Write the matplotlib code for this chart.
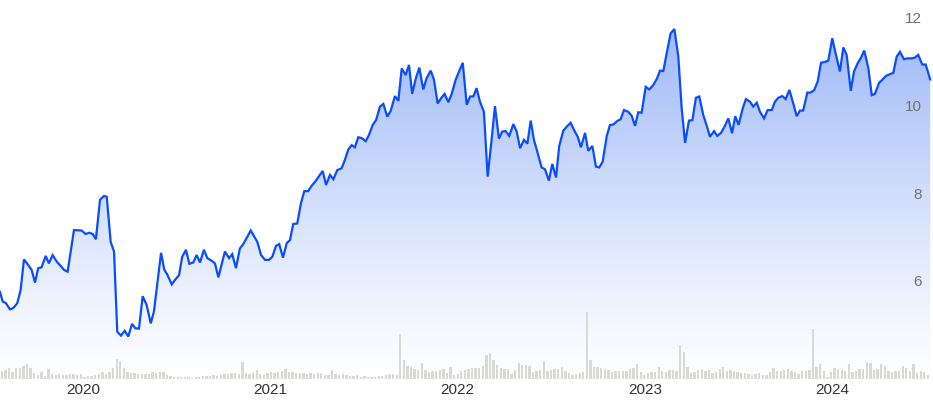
import numpy as np
import matplotlib
matplotlib.use("Agg")
import matplotlib.pyplot as plt
from matplotlib.patches import Polygon

# weekly close, x in decimal years
years = [2019.557, 2019.571, 2019.589, 2019.610, 2019.628, 2019.649, 2019.667, 2019.685, 2019.703, 2019.726,
         2019.744, 2019.761, 2019.779, 2019.801, 2019.818, 2019.838, 2019.860, 2019.881, 2019.899, 2019.918,
         2019.952, 2019.993, 2020.014, 2020.034, 2020.052, 2020.069, 2020.091, 2020.112, 2020.127, 2020.148,
         2020.166, 2020.183, 2020.203, 2020.223, 2020.242, 2020.262, 2020.279, 2020.299, 2020.319, 2020.340,
         2020.362, 2020.379, 2020.417, 2020.434, 2020.452, 2020.474, 2020.491, 2020.513, 2020.530, 2020.550,
         2020.568, 2020.589, 2020.607, 2020.625, 2020.646, 2020.664, 2020.687, 2020.705, 2020.723, 2020.758,
         2020.780, 2020.797, 2020.817, 2020.838, 2020.856, 2020.896, 2020.931, 2020.951, 2020.972, 2020.993,
         2021.011, 2021.031, 2021.048, 2021.068, 2021.088, 2021.105, 2021.123, 2021.144, 2021.164, 2021.182,
         2021.203, 2021.221, 2021.239, 2021.280, 2021.298, 2021.319, 2021.337, 2021.358, 2021.381, 2021.395,
         2021.417, 2021.435, 2021.452, 2021.470, 2021.488, 2021.510, 2021.527, 2021.547, 2021.565, 2021.586,
         2021.604, 2021.625, 2021.643, 2021.666, 2021.684, 2021.702, 2021.723, 2021.741, 2021.758, 2021.778,
         2021.796, 2021.817, 2021.835, 2021.857, 2021.874, 2021.894, 2021.912, 2021.931, 2021.951, 2021.969,
         2021.990, 2022.008, 2022.028, 2022.049, 2022.067, 2022.084, 2022.102, 2022.120, 2022.141, 2022.161,
         2022.182, 2022.200, 2022.221, 2022.239, 2022.257, 2022.276, 2022.298, 2022.316, 2022.334, 2022.355,
         2022.373, 2022.391, 2022.408, 2022.426, 2022.449, 2022.467, 2022.488, 2022.506, 2022.526, 2022.543,
         2022.565, 2022.583, 2022.604, 2022.624, 2022.642, 2022.659, 2022.681, 2022.698, 2022.720, 2022.739,
         2022.757, 2022.775, 2022.797, 2022.814, 2022.832, 2022.853, 2022.871, 2022.889, 2022.912, 2022.930,
         2022.948, 2022.965, 2022.983, 2023.005, 2023.024, 2023.045, 2023.064, 2023.081, 2023.099, 2023.117,
         2023.138, 2023.158, 2023.179, 2023.197, 2023.215, 2023.236, 2023.254, 2023.273, 2023.291, 2023.312,
         2023.331, 2023.348, 2023.370, 2023.387, 2023.407, 2023.428, 2023.446, 2023.466, 2023.483, 2023.501,
         2023.523, 2023.540, 2023.562, 2023.579, 2023.598, 2023.615, 2023.637, 2023.656, 2023.678, 2023.695,
         2023.713, 2023.734, 2023.752, 2023.772, 2023.793, 2023.811, 2023.829, 2023.846, 2023.868, 2023.886,
         2023.905, 2023.923, 2023.941, 2023.962, 2023.980, 2024.001, 2024.021, 2024.042, 2024.060, 2024.078,
         2024.100, 2024.117, 2024.137, 2024.155, 2024.172, 2024.194, 2024.212, 2024.229, 2024.251, 2024.268,
         2024.288, 2024.309, 2024.327, 2024.345, 2024.363, 2024.384, 2024.402, 2024.425, 2024.443, 2024.460,
         2024.482, 2024.500, 2024.524]
price = [5.78, 5.56, 5.52, 5.38, 5.41, 5.52, 5.82, 6.52, 6.42, 6.28,
         5.99, 6.32, 6.34, 6.60, 6.43, 6.62, 6.47, 6.37, 6.28, 6.24,
         7.19, 7.18, 7.10, 7.13, 7.10, 6.98, 7.88, 7.97, 7.95, 6.92,
         6.70, 4.87, 4.78, 4.89, 4.76, 5.05, 4.95, 4.94, 5.68, 5.48,
         5.06, 5.33, 6.67, 6.29, 6.16, 5.95, 6.05, 6.16, 6.58, 6.74,
         6.42, 6.45, 6.62, 6.45, 6.74, 6.55, 6.49, 6.43, 6.11, 6.70,
         6.55, 6.64, 6.32, 6.77, 6.87, 7.18, 6.92, 6.62, 6.51, 6.51,
         6.58, 6.83, 6.87, 6.56, 6.89, 6.96, 7.33, 7.34, 7.80, 8.08,
         8.08, 8.20, 8.29, 8.54, 8.22, 8.45, 8.35, 8.56, 8.60, 8.75,
         9.03, 9.13, 9.08, 9.31, 9.29, 9.22, 9.36, 9.59, 9.70, 10.01,
         10.07, 9.78, 9.91, 10.25, 10.14, 10.88, 10.73, 10.96, 10.30, 10.66,
         10.90, 10.40, 10.66, 10.83, 10.63, 10.08, 10.20, 10.30, 10.11, 10.30,
         10.62, 10.81, 11.01, 10.05, 10.24, 10.24, 10.43, 10.12, 9.89, 8.41,
         9.25, 10.02, 9.28, 9.44, 9.45, 9.34, 9.61, 9.44, 9.06, 9.25,
         9.16, 9.69, 9.25, 8.98, 8.62, 8.58, 8.32, 8.70, 8.39, 9.11,
         9.46, 9.55, 9.64, 9.46, 9.32, 9.08, 9.41, 9.00, 9.11, 8.64,
         8.62, 8.75, 9.34, 9.59, 9.60, 9.68, 9.72, 9.93, 9.89, 9.80,
         9.57, 9.88, 9.87, 10.46, 10.40, 10.50, 10.64, 10.83, 10.82, 11.23,
         11.68, 11.78, 11.15, 9.97, 9.18, 9.69, 9.70, 10.21, 10.24, 9.82,
         9.57, 9.32, 9.45, 9.34, 9.41, 9.57, 9.74, 9.40, 9.79, 9.59,
         9.97, 10.18, 10.12, 10.01, 10.10, 9.89, 9.74, 9.93, 9.93, 10.12,
         10.21, 10.25, 10.18, 10.39, 10.08, 9.79, 9.92, 9.92, 10.33, 10.33,
         10.39, 10.58, 11.01, 11.03, 11.06, 11.57, 11.19, 10.81, 11.36, 11.19,
         10.37, 10.81, 11.00, 11.13, 11.29, 10.88, 10.27, 10.30, 10.55, 10.62,
         10.71, 10.75, 10.78, 11.15, 11.26, 11.09, 11.11, 11.11, 11.13, 11.19,
         10.97, 10.97, 10.63]

# weekly volume (relative units), first week starts at vol_start
vol_start = 2019.567
volume = [8, 9, 11, 7, 11, 11, 13, 15, 11, 6,
          4, 7, 3, 10, 5, 4, 5, 4, 4, 5,
          5, 4, 5, 2, 3, 3, 4, 5, 7, 5,
          7, 11, 20, 18, 11, 7, 6, 6, 5, 5,
          5, 5, 7, 6, 7, 7, 4, 3, 2, 2,
          2, 2, 2, 1, 2, 2, 3, 3, 3, 4,
          3, 4, 5, 5, 6, 6, 5, 17, 6, 5,
          6, 9, 5, 4, 6, 7, 6, 7, 8, 10,
          7, 7, 6, 6, 6, 5, 6, 5, 6, 6,
          4, 4, 9, 5, 4, 5, 4, 3, 3, 4,
          2, 3, 2, 2, 2, 3, 3, 4, 5, 5,
          4, 45, 19, 13, 12, 10, 9, 16, 9, 7,
          8, 8, 9, 10, 6, 12, 4, 5, 8, 9,
          10, 11, 11, 11, 13, 24, 26, 19, 14, 11,
          10, 10, 5, 9, 16, 14, 14, 13, 7, 8,
          9, 18, 8, 9, 10, 10, 12, 8, 6, 4,
          5, 6, 7, 67, 19, 12, 12, 11, 10, 9,
          7, 8, 8, 8, 8, 10, 11, 15, 7, 4,
          6, 7, 7, 12, 8, 7, 9, 9, 8, 34,
          27, 12, 6, 7, 9, 10, 8, 9, 6, 7,
          10, 12, 8, 9, 8, 7, 6, 6, 5, 4,
          5, 6, 4, 4, 7, 11, 8, 8, 9, 10,
          8, 7, 5, 8, 8, 9, 50, 12, 15, 8,
          2, 7, 11, 10, 9, 8, 15, 7, 8, 10,
          10, 17, 16, 9, 10, 15, 13, 8, 7, 8,
          8, 13, 11, 8, 15, 6, 8, 7, 4]

year_ticks = [2020, 2021, 2022, 2023, 2024]
price_ticks = [6, 8, 10, 12]

line_color = "#0a4dff"
xmin, xmax = 2019.557, 2024.539
ymin, ymax = 3.79, 12.443

fig = plt.figure(figsize=(9.33, 4.01), dpi=100)
rect = [0, 22 / 401, 1, 379 / 401]

# price line with gradient fill
ax = fig.add_axes(rect)
ax.set_xlim(xmin, xmax)
ax.set_ylim(ymin, ymax)

n = 256
frac = np.linspace(0, 1, n) ** 1.15
top = np.array([0.60, 0.71, 0.97])
cols = 1 - frac[:, None] * (1 - top)
grad = np.repeat(cols[:, None, :], 2, axis=1)
im = ax.imshow(grad, extent=[xmin, xmax, ymin, 12.2], origin="lower",
               aspect="auto", interpolation="bilinear", zorder=1)
verts = np.vstack([np.column_stack([years, price]),
                   [[years[-1], ymin], [years[0], ymin]]])
clip = Polygon(verts, closed=True, facecolor="none", edgecolor="none",
               transform=ax.transData)
ax.add_patch(clip)
im.set_clip_path(clip)

ax.plot(years, price, color=line_color, lw=1.6, zorder=3,
        solid_joinstyle="miter")

for spine in ax.spines.values():
    spine.set_visible(False)
ax.set_yticks([])
ax.set_xticks(year_ticks)
ax.set_xticklabels([str(y) for y in year_ticks], fontsize=11,
                   color="#333333", family="Liberation Sans")
ax.tick_params(axis="x", length=0, pad=3)

for v in price_ticks:
    ax.text(0.988, v, str(v), transform=ax.get_yaxis_transform(),
            ha="right", va="center", fontsize=11, color="#707070",
            family="Liberation Sans", zorder=4)

# volume bars drawn over the faded bottom of the fill
axv = fig.add_axes(rect)
axv.patch.set_alpha(0)
week = 7 / 365.25
vol_x = vol_start + week * np.arange(len(volume))
axv.bar(vol_x, volume, width=0.0125, color="#d9d9d5", linewidth=0)
axv.set_xlim(xmin, xmax)
axv.set_ylim(0, 379)
axv.axis("off")

fig.savefig("out.png", dpi=100)
